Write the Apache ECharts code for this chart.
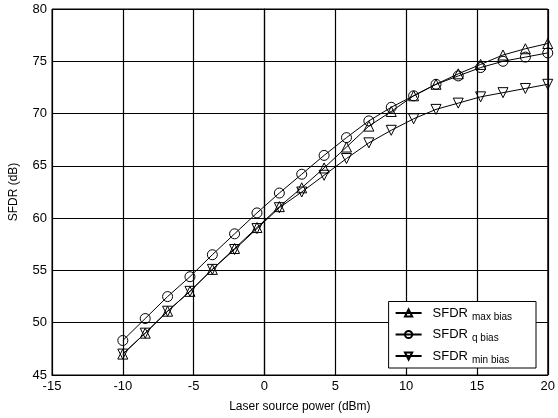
<!DOCTYPE html>
<html>
<head>
<meta charset="utf-8">
<script src="https://cdn.jsdelivr.net/npm/echarts@6/dist/echarts.min.js"></script>
<style>
  html, body { margin: 0; padding: 0; background: #fff; }
  #chart { width: 558px; height: 418px; }
</style>
</head>
<body>
<div id="chart"></div>
<script>
// laser source power (dBm)
const power = [-10, -8.42, -6.84, -5.26, -3.68, -2.11, -0.53, 1.05, 2.63, 4.21,
  5.79, 7.37, 8.95, 10.53, 12.11, 13.68, 15.26, 16.84, 18.42, 20];

// SFDR (dB) per bias point
const sfdrMax = [47.0, 49.0, 51.1, 53.0, 55.1, 57.1, 59.1, 61.1, 62.9, 64.8,
  66.8, 68.8, 70.2, 71.7, 72.8, 73.8, 74.7, 75.6, 76.2, 76.7];
const sfdrQ = [48.3, 50.4, 52.5, 54.4, 56.5, 58.5, 60.5, 62.4, 64.2, 66.0,
  67.7, 69.3, 70.6, 71.7, 72.8, 73.6, 74.4, 75.0, 75.4, 75.8];
const sfdrMin = [47.0, 49.0, 51.1, 53.0, 55.1, 57.0, 59.0, 61.0, 62.5, 64.1,
  65.7, 67.2, 68.4, 69.5, 70.4, 71.0, 71.6, 72.0, 72.4, 72.8];

const seriesNames = ['max bias', 'q bias', 'min bias'];

const font = 'Liberation Sans, Arial, Helvetica, sans-serif';

function pairs(ys) {
  return ys.map((y, i) => [power[i], y]);
}

function makeSeries(name, ys, symbol, rotate) {
  return {
    name: name,
    type: 'line',
    data: pairs(ys),
    symbol: symbol,
    symbolSize: 10,
    symbolRotate: rotate,
    showAllSymbol: true,
    lineStyle: { color: '#000', width: 1 },
    itemStyle: { color: 'rgba(0,0,0,0)', borderColor: '#000', borderWidth: 1 },
    emphasis: { disabled: true },
    animation: false
  };
}

const chart = echarts.init(document.getElementById('chart'));

chart.setOption({
  backgroundColor: '#fff',
  textStyle: { fontFamily: font, color: '#000' },
  grid: { left: 50, right: 7, top: 9, bottom: 43, show: true, borderColor: '#000', borderWidth: 1 },
  xAxis: {
    type: 'value',
    min: -15,
    max: 20,
    interval: 5,
    name: 'Laser source power (dBm)',
    nameLocation: 'middle',
    nameGap: 26,
    nameTextStyle: { fontSize: 12, color: '#000' },
    axisLine: { lineStyle: { color: '#000', width: 1.2 } },
    axisTick: { show: false },
    axisLabel: { fontSize: 13, color: '#000', margin: 5 },
    splitLine: { lineStyle: { color: '#000', width: 1.2 } }
  },
  yAxis: {
    type: 'value',
    min: 45,
    max: 80,
    interval: 5,
    name: 'SFDR (dB)',
    nameLocation: 'middle',
    nameGap: 32,
    nameTextStyle: { fontSize: 12, color: '#000' },
    axisLine: { show: true, lineStyle: { color: '#000', width: 1.2 } },
    axisTick: { show: false },
    axisLabel: { fontSize: 13, color: '#000', margin: 5 },
    splitLine: { lineStyle: { color: '#000', width: 1.2 } }
  },
  legend: {
    data: seriesNames,
    orient: 'vertical',
    right: 22,
    bottom: 50,
    backgroundColor: '#fff',
    borderColor: '#000',
    borderWidth: 1,
    borderRadius: 0,
    padding: [5, 24, 3, 6],
    itemGap: 6,
    itemWidth: 26,
    itemHeight: 9,
    selectedMode: false,
    formatter: function (name) {
      return '{a|SFDR}{s|' + name + '}';
    },
    textStyle: {
      rich: {
        a: { fontSize: 13, fontFamily: font, color: '#000', padding: [0, 4, 0, 6] },
        s: { fontSize: 10, fontFamily: font, color: '#000', padding: [8, 0, 0, 0] }
      }
    }
  },
  series: [
    makeSeries(seriesNames[0], sfdrMax, 'triangle', 0),
    makeSeries(seriesNames[1], sfdrQ, 'circle', 0),
    makeSeries(seriesNames[2], sfdrMin, 'triangle', 180)
  ]
});
</script>
</body>
</html>
